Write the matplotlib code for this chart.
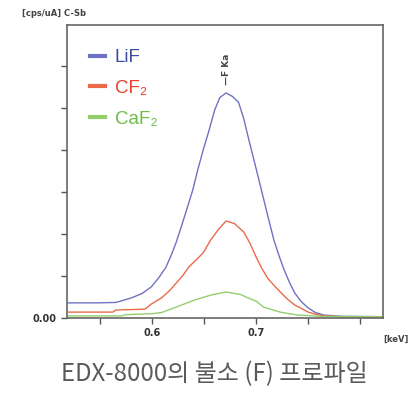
import matplotlib.pyplot as plt

# energy (keV) / intensity
lif_x = [0.519, 0.545, 0.565, 0.572, 0.580, 0.590, 0.599, 0.606, 0.613, 0.618, 0.623, 0.628,
         0.633, 0.639, 0.644, 0.649, 0.655, 0.660, 0.665, 0.671, 0.677, 0.683, 0.688, 0.693,
         0.699, 0.705, 0.711, 0.717, 0.722, 0.727, 0.732, 0.737, 0.743, 0.750, 0.757, 0.765,
         0.782, 0.823]
lif_y = [0.36, 0.36, 0.37, 0.42, 0.48, 0.58, 0.74, 0.95, 1.20, 1.48, 1.80, 2.18,
         2.57, 3.05, 3.55, 4.00, 4.50, 4.95, 5.25, 5.36, 5.28, 5.14, 4.75, 4.24,
         3.65, 3.05, 2.45, 1.86, 1.48, 1.14, 0.85, 0.60, 0.40, 0.24, 0.13, 0.07,
         0.04, 0.03]

cf2_x = [0.519, 0.562, 0.565, 0.593, 0.599, 0.609, 0.617, 0.624, 0.630, 0.635, 0.642, 0.649,
         0.656, 0.664, 0.671, 0.679, 0.688, 0.694, 0.700, 0.705, 0.711, 0.717, 0.724, 0.730,
         0.737, 0.744, 0.750, 0.757, 0.765, 0.782, 0.823]
cf2_y = [0.14, 0.14, 0.19, 0.21, 0.33, 0.48, 0.66, 0.86, 1.03, 1.21, 1.38, 1.55,
         1.85, 2.12, 2.31, 2.25, 2.05, 1.78, 1.45, 1.20, 0.95, 0.78, 0.60, 0.45,
         0.31, 0.22, 0.14, 0.09, 0.05, 0.03, 0.03]

caf2_x = [0.519, 0.571, 0.574, 0.599, 0.609, 0.623, 0.641, 0.657, 0.671, 0.685, 0.692, 0.700,
          0.707, 0.723, 0.740, 0.762, 0.823]
caf2_y = [0.05, 0.05, 0.08, 0.10, 0.13, 0.26, 0.43, 0.55, 0.62, 0.56, 0.48, 0.40,
          0.26, 0.14, 0.07, 0.04, 0.03]

series = [("LiF", lif_x, lif_y, "#6f72c4", "#3e4c9e"),
          ("CF₂", cf2_x, cf2_y, "#ea6a4a", "#e5412c"),
          ("CaF₂", caf2_x, caf2_y, "#94cf6c", "#6cbc48")]

fig = plt.figure(figsize=(4.19, 3.96), dpi=100)
ax = fig.add_axes([0.160, 0.197, 0.754, 0.740])

for name, xs, ys, col, _ in series:
    ax.plot(xs, ys, color=col, lw=1.0, label=name)

ax.set_xlim(0.518, 0.822)
ax.set_ylim(0, 6.98)

ax.set_xticks([0.55, 0.6, 0.65, 0.7, 0.75, 0.8])
ax.set_xticklabels(["", "0.6", "", "0.7", "", ""])
ax.set_yticks([0, 1, 2, 3, 4, 5, 6])
ax.set_yticklabels(["0.00", "", "", "", "", "", ""])
ax.tick_params(axis="both", direction="out", length=4, width=1, color="#555555",
               labelsize=7, labelcolor="#333333")
for lab in ax.get_xticklabels() + ax.get_yticklabels():
    lab.set_fontweight("bold")
for s in ax.spines.values():
    s.set_color("#666666")
    s.set_linewidth(1.2)

leg = ax.legend(loc="upper left", bbox_to_anchor=(0.02, 0.975), frameon=False,
                handlelength=0.8, handletextpad=0.5, labelspacing=0.72,
                prop={"family": "Liberation Sans", "size": 13.5})
for txt, (_, _, _, _, tc) in zip(leg.get_texts(), series):
    txt.set_color(tc)
for h in leg.legend_handles:
    h.set_linewidth(3)

ax.text(0.671, 5.55, "—F Ka", rotation=90, ha="center", va="bottom",
        fontsize=6.5, fontweight="bold", color="#444444")

fig.text(0.053, 0.967, "[cps/uA] C-Sb", fontsize=6, fontweight="bold",
         color="#444444", va="center")
fig.text(0.945, 0.144, "[keV]", fontsize=6, fontweight="bold",
         color="#444444", ha="center", va="center")

fig.text(0.512, 0.055, "EDX-8000의 불소 (F) 프로파일", ha="center", va="center",
         fontsize=17.3, fontweight="light", color="#5a5a5a",
         family=["Noto Sans CJK KR", "DejaVu Sans"])

plt.savefig("out.png", dpi=100)
